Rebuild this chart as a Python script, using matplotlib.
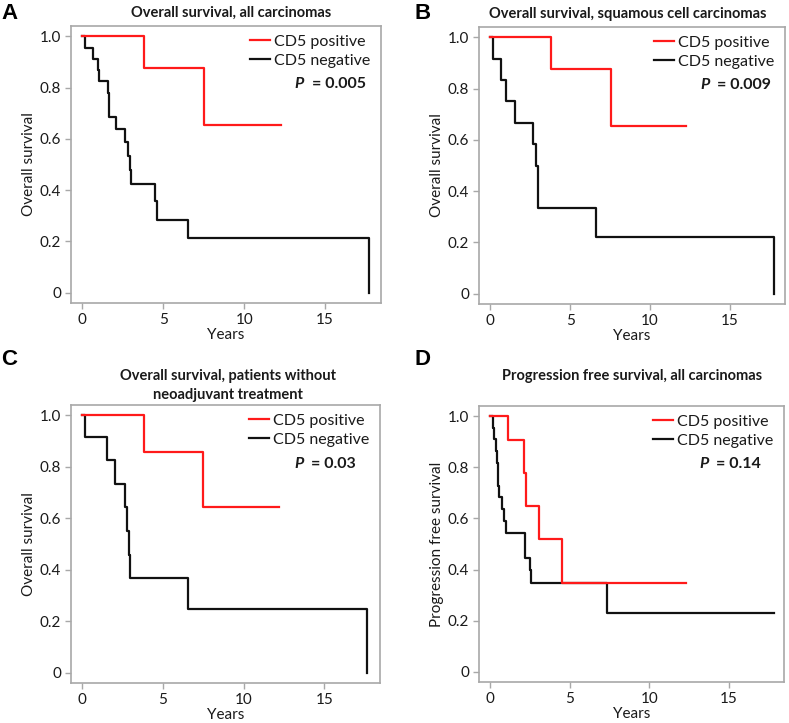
import numpy as np
import matplotlib
matplotlib.use("Agg")
import matplotlib.pyplot as plt

plt.rcParams["font.family"] = ["Lato", "DejaVu Sans"]

# ---- data (time in years, survival fraction) ----
# A: overall survival, all carcinomas
a_pos_t = [0, 3.8, 7.5, 12.25]
a_pos_s = [1.0, 0.875, 0.655, 0.655]
a_neg_t = [0, 0.18, 0.68, 0.96, 1.05, 1.58, 1.62, 2.05, 2.66, 2.80, 2.93, 3.01, 4.46, 4.60, 6.55, 17.72, 17.72]
a_neg_s = [1.0, 0.953, 0.911, 0.867, 0.824, 0.78, 0.686, 0.640, 0.586, 0.533, 0.479, 0.424, 0.356, 0.283, 0.212, 0.212, 0.0]

# B: overall survival, squamous cell carcinomas
b_pos_t = [0, 3.81, 7.54, 12.25]
b_pos_s = [1.0, 0.876, 0.655, 0.655]
b_neg_t = [0, 0.19, 0.69, 0.98, 1.56, 2.69, 2.85, 2.98, 3.02, 6.6, 17.77, 17.77]
b_neg_s = [1.0, 0.916, 0.832, 0.751, 0.666, 0.583, 0.5, 0.417, 0.333, 0.221, 0.221, 0.0]

# C: overall survival, patients without neoadjuvant treatment
c_pos_t = [0, 3.8, 7.5, 12.2]
c_pos_s = [1.0, 0.857, 0.645, 0.645]
c_neg_t = [0, 0.18, 1.56, 2.03, 2.62, 2.77, 2.90, 2.96, 6.55, 17.62, 17.62]
c_neg_s = [1.0, 0.916, 0.826, 0.734, 0.642, 0.551, 0.459, 0.368, 0.246, 0.246, 0.0]

# D: progression free survival, all carcinomas
d_pos_t = [0, 1.15, 2.15, 2.27, 3.08, 4.52, 12.29]
d_pos_s = [1.0, 0.907, 0.779, 0.647, 0.518, 0.346, 0.346]
d_neg_t = [0, 0.17, 0.25, 0.375, 0.44, 0.48, 0.50, 0.54, 0.73, 0.90, 1.0, 2.17, 2.52, 2.58, 7.35, 17.83]
d_neg_s = [1.0, 0.955, 0.909, 0.864, 0.818, 0.773, 0.727, 0.682, 0.636, 0.591, 0.545, 0.446, 0.397, 0.347, 0.231, 0.231]

panels = [
    ("A", ["Overall survival, all carcinomas"], "Overall survival", "0.005",
     (a_pos_t, a_pos_s), (a_neg_t, a_neg_s)),
    ("B", ["Overall survival, squamous cell carcinomas"], "Overall survival", "0.009",
     (b_pos_t, b_pos_s), (b_neg_t, b_neg_s)),
    ("C", ["Overall survival, patients without", "neoadjuvant treatment"], "Overall survival", "0.03",
     (c_pos_t, c_pos_s), (c_neg_t, c_neg_s)),
    ("D", ["Progression free survival, all carcinomas"], "Progression free survival", "0.14",
     (d_pos_t, d_pos_s), (d_neg_t, d_neg_s)),
]

W, H = 789, 723
# axes boxes in pixels: left, top, right, bottom
boxes = [(71, 26, 381, 303), (479, 27, 785, 304), (71, 405, 380, 683), (479, 406, 784, 682)]
letter_pos = [(1, 3), (414, 3), (1, 349), (414, 349)]
title_x = [0.518, 0.486, 0.507, 0.502]

fig = plt.figure(figsize=(W / 100, H / 100), dpi=100)
gray = "#a8a8a8"
txt = "#1a1a1a"

for i, (letter, title, ylab, pval, pos, neg) in enumerate(panels):
    l, t, r, b = boxes[i]
    ax = fig.add_axes([l / W, 1 - b / H, (r - l) / W, (b - t) / H])

    ax.step(neg[0], neg[1], where="post", color="#111111", lw=1.6, label="CD5 negative", zorder=2)
    ax.step(pos[0], pos[1], where="post", color="#ff1a1a", lw=1.6, label="CD5 positive", zorder=3)

    ax.set_xlim(-0.7, 18.45)
    ax.set_ylim(-0.04, 1.04)
    ax.set_xticks([0, 5, 10, 15])
    ax.set_yticks([0, 0.2, 0.4, 0.6, 0.8, 1.0])
    ax.set_yticklabels(["0", "0.2", "0.4", "0.6", "0.8", "1.0"])
    for s in ax.spines.values():
        s.set_color(gray)
        s.set_linewidth(1.2)
    ax.tick_params(direction="out", length=4.5, width=1.0, color=gray,
                   labelsize=11, labelcolor=txt, pad=2.5)
    ax.set_xlabel("Years", fontsize=11, color=txt, labelpad=1)
    ax.set_ylabel(ylab, fontsize=11, color=txt, labelpad=3)

    h, lb = ax.get_legend_handles_labels()
    ax.legend(h[::-1], lb[::-1], loc="upper right", bbox_to_anchor=(0.995, 1.0),
              frameon=False, fontsize=11.5, handlelength=1.25, handletextpad=0.3,
              labelspacing=0.3, borderaxespad=0.15, labelcolor=txt)

    ax.text(0.722, 0.789, "P", transform=ax.transAxes, fontsize=11.5,
            fontweight="bold", style="italic", va="center", color=txt)
    ax.text(0.777, 0.789, "= " + pval, transform=ax.transAxes, fontsize=11.5,
            fontweight="bold", va="center", color=txt)

    if len(title) == 1:
        ty = 1.11 if letter == "D" else 1.047
        ax.text(title_x[i], ty, title[0], transform=ax.transAxes, ha="center",
                va="center", fontsize=10.5, fontweight="bold", color=txt)
    else:
        ax.text(title_x[i], 1.106, title[0], transform=ax.transAxes, ha="center",
                va="center", fontsize=10.5, fontweight="bold", color=txt)
        ax.text(title_x[i], 1.037, title[1], transform=ax.transAxes, ha="center",
                va="center", fontsize=10.5, fontweight="bold", color=txt)

    lx, ly = letter_pos[i]
    fig.text(lx / W, 1 - ly / H, letter, fontsize=16, fontweight="heavy",
             family=["Liberation Sans", "DejaVu Sans"], va="top", ha="left", color="black")

fig.savefig("out.png", dpi=100)
